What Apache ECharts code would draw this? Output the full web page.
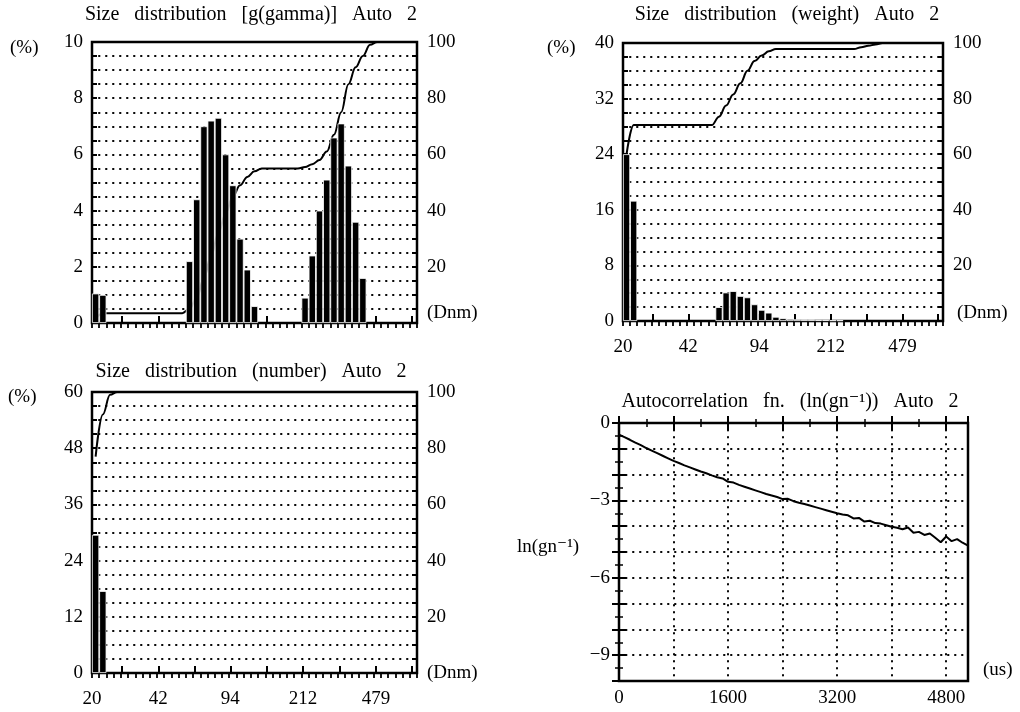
<!DOCTYPE html>
<html><head><meta charset="utf-8">
<script src="https://cdn.jsdelivr.net/npm/echarts@6/dist/echarts.min.js"></script>
<style>html,body{margin:0;padding:0;background:#fff}#c{width:1020px;height:712px}</style>
</head><body><div id="c"></div>
<script>
// ---------- DATA ----------
// bin centre diameters (nm), log-spaced bins shared by the three size panels
const binDiameters = [20.8, 22.6, 24.5, 26.5, 28.8, 31.2, 33.8, 36.6, 39.7, 43.0,
  46.6, 50.6, 54.8, 59.4, 64.4, 69.8, 75.6, 82.0, 88.9, 96.3,
  104, 113, 123, 133, 144, 156, 169, 184, 199, 216,
  234, 254, 275, 298, 323, 350, 380, 411, 446, 484,
  524, 568, 616, 668, 724];

// Size distribution [g(gamma)]  (%) and cumulative (%)
const gammaBars = [1.05, 1.0, 0, 0, 0, 0, 0, 0, 0, 0, 0, 0, 0,
  2.2, 4.4, 7.0, 7.2, 7.3, 6.0, 4.9, 3.0, 1.9, 0.6,
  0, 0, 0, 0, 0, 0,
  0.9, 2.4, 4.0, 5.1, 6.6, 7.1, 5.6, 3.6, 1.6,
  0, 0, 0, 0, 0, 0, 0];
const gammaCum = [1.5, 3.5, 3.5, 3.5, 3.5, 3.5, 3.5, 3.5, 3.5, 3.5, 3.5, 3.5, 3.5,
  5, 9, 16, 24, 32, 39, 45, 49, 52, 54, 55,
  55, 55, 55, 55, 55,
  55.5, 56.5, 58, 61, 67, 75, 85, 91, 95, 99,
  100, 100, 100, 100, 100, 100];

// Size distribution (weight)
const weightBars = [24, 17.3, 0, 0, 0, 0, 0, 0, 0, 0, 0, 0, 0,
  2.0, 4.1, 4.3, 3.6, 3.4, 2.4, 1.6, 1.2, 0.6, 0.4, 0.3, 0.25, 0.2, 0.2, 0.15, 0.15, 0.1, 0.1,
  0, 0, 0, 0, 0, 0, 0, 0, 0, 0, 0, 0, 0, 0];
const weightCum = [60, 70.5, 70.5, 70.5, 70.5, 70.5, 70.5, 70.5, 70.5, 70.5, 70.5, 70.5, 70.5,
  73.5, 77.5, 81.5, 85.5, 90, 93.5, 95.5, 97, 97.8,
  97.8, 97.8, 97.8, 97.8, 97.8, 97.8, 97.8, 97.8, 97.8, 97.8, 97.8,
  98.5, 99, 99.5,
  100, 100, 100, 100, 100, 100, 100, 100, 100];

// Size distribution (number)
const numberBars = [29.5, 17.5, 0, 0, 0, 0, 0, 0, 0, 0, 0, 0, 0, 0, 0,
  0, 0, 0, 0, 0, 0, 0, 0, 0, 0, 0, 0, 0, 0, 0,
  0, 0, 0, 0, 0, 0, 0, 0, 0, 0, 0, 0, 0, 0, 0];
const numberCum = [77, 92, 99, 100, 100, 100, 100, 100, 100, 100, 100, 100, 100, 100, 100,
  100, 100, 100, 100, 100, 100, 100, 100, 100, 100, 100, 100, 100, 100, 100,
  100, 100, 100, 100, 100, 100, 100, 100, 100, 100, 100, 100, 100, 100, 100];

// size axis ticks / labels (Dnm)
const sizeTickValues = [28, 42, 63, 94, 141, 212, 318, 479, 718];
const sizeLabelValues = [20, 42, 94, 212, 479];

// Autocorrelation fn. ln(gn^-1) vs time (us)
const acfTime = [0, 80, 160, 240, 320, 400, 480, 560, 640, 720, 800, 880, 960, 1040, 1120, 1200,
  1280, 1360, 1440, 1520, 1600, 1680, 1760, 1840, 1920, 2000, 2080, 2160, 2240, 2320, 2400,
  2480, 2560, 2640, 2720, 2800, 2880, 2960, 3040, 3120, 3200, 3280, 3360, 3440, 3520, 3600,
  3680, 3760, 3840, 3920, 4000, 4080, 4160, 4240, 4320, 4400, 4480, 4560, 4640, 4720, 4800,
  4880, 4960, 5040, 5120];
const acfValue = [-0.45, -0.55, -0.65, -0.76, -0.86, -0.97, -1.07, -1.17, -1.27, -1.37, -1.47,
  -1.55, -1.64, -1.72, -1.80, -1.88, -1.95, -2.03, -2.10, -2.15, -2.28, -2.31, -2.40, -2.47,
  -2.54, -2.61, -2.68, -2.75, -2.81, -2.87, -2.95, -2.94, -3.03, -3.09, -3.14, -3.20, -3.26,
  -3.32, -3.38, -3.44, -3.50, -3.55, -3.58, -3.70, -3.68, -3.82, -3.79, -3.88, -3.90, -3.96,
  -4.02, -4.06, -4.12, -4.05, -4.25, -4.22, -4.34, -4.28, -4.45, -4.62, -4.40, -4.58, -4.50,
  -4.64, -4.75];

// ---------- CHART ----------
const FONT = '"Liberation Serif","Times New Roman","DejaVu Serif",serif';
const FS = 19;
const dotted = {color: '#000', width: 2, type: [0.5, 6.5], cap: 'round'};
const tickStyle = {color: '#000', width: 2};

const grid = [
  {left: 92, top: 42, width: 325, height: 281},
  {left: 623, top: 43, width: 320, height: 278},
  {left: 92, top: 392, width: 325, height: 281},
  {left: 619, top: 423, width: 349, height: 258}
].map(g => Object.assign({show: true, borderColor: '#000', borderWidth: 2.5, backgroundColor: '#fff'}, g));

const xAxis = [], yAxis = [], series = [];
const lbl = (extra) => Object.assign({color: '#000', fontFamily: FONT, fontSize: FS}, extra);

function distPanel(gi, bars, cum, yMax, yInt, yStep, showX) {
  const xi = xAxis.length, yi = yAxis.length;
  xAxis.push({gridIndex: gi, type: 'category', data: binDiameters, position: 'top', boundaryGap: true,
    axisLine: {show: false}, axisLabel: {show: false}, splitLine: {show: false},
    axisTick: {show: true, inside: true, length: 5, interval: 0, lineStyle: {color: '#000', width: 1.8}}});
  xAxis.push({gridIndex: gi, type: 'log', logBase: 10, min: 20, max: 758, position: 'bottom',
    axisLine: {show: false}, splitLine: {show: false}, minorTick: {show: false},
    axisTick: {show: true, inside: true, length: 7, customValues: sizeTickValues, lineStyle: tickStyle},
    axisLabel: lbl({show: showX, customValues: sizeLabelValues, margin: 17, formatter: v => String(Math.round(v))})});
  yAxis.push({gridIndex: gi, type: 'value', min: 0, max: yMax, interval: yInt, position: 'left',
    axisLine: {show: false}, splitLine: {show: true, lineStyle: dotted},
    axisTick: {show: true, inside: true, length: 5, lineStyle: tickStyle},
    axisLabel: lbl({margin: 9, formatter: v => (Math.abs(v % yStep) < 1e-9 ? String(v) : '')})});
  yAxis.push({gridIndex: gi, type: 'value', min: 0, max: 100, interval: 5, position: 'right',
    axisLine: {show: false}, splitLine: {show: false},
    axisTick: {show: true, inside: true, length: 5, lineStyle: tickStyle},
    axisLabel: lbl({margin: 10, formatter: v => (v % 20 === 0 && v !== 0 ? String(v) : '')})});
  series.push({type: 'line', xAxisIndex: xi, yAxisIndex: yi + 1, data: cum, smooth: 0.4, smoothMonotone: 'x',
    symbol: 'none', lineStyle: {color: '#000', width: 2}, silent: true, z: 1});
  series.push({type: 'bar', xAxisIndex: xi, yAxisIndex: yi, data: bars.map(v => (v === 0 ? null : v)),
    barCategoryGap: '0%', barGap: '0%', z: 2,
    itemStyle: {color: '#000', borderColor: '#fff', borderWidth: 0.8}, silent: true});
}

distPanel(0, gammaBars, gammaCum, 10, 0.5, 2, false);
distPanel(1, weightBars, weightCum, 40, 2, 8, true);
distPanel(2, numberBars, numberCum, 60, 3, 12, true);

// autocorrelation panel
{
  const xi = xAxis.length, yi = yAxis.length;
  const xBase = {gridIndex: 3, type: 'value', min: 0, max: 5120, interval: 800,
    axisLine: {show: false},
    axisTick: {show: true, inside: true, length: 7, lineStyle: tickStyle},
    minorTick: {show: true, splitNumber: 2, length: 4, lineStyle: {color: '#000', width: 1.5}},
    minorSplitLine: {show: false}};
  xAxis.push(Object.assign({}, xBase, {position: 'bottom', splitLine: {show: true, lineStyle: dotted},
    axisLabel: lbl({margin: 8, formatter: v => (v % 1600 === 0 ? String(v) : '')})}));
  xAxis.push(Object.assign({}, xBase, {position: 'top', splitLine: {show: false}, axisLabel: {show: false}}));
  const yBase = {gridIndex: 3, type: 'value', min: -10, max: 0, interval: 1,
    axisLine: {show: false},
    axisTick: {show: true, inside: true, length: 7, lineStyle: tickStyle},
    minorTick: {show: true, splitNumber: 2, length: 4, lineStyle: {color: '#000', width: 1.5}},
    minorSplitLine: {show: false}};
  yAxis.push(Object.assign({}, yBase, {position: 'left', splitLine: {show: true, lineStyle: dotted},
    axisLabel: lbl({margin: 9, formatter: v => (v % 3 === 0 ? (v < 0 ? '\u2212' + Math.abs(v) : String(v)) : '')})}));
  yAxis.push(Object.assign({}, yBase, {position: 'right', splitLine: {show: false}, axisLabel: {show: false}}));
  series.push({type: 'line', xAxisIndex: xi, yAxisIndex: yi, data: acfTime.map((t, i) => [t, acfValue[i]]),
    symbol: 'none', lineStyle: {color: '#000', width: 2}, silent: true, z: 3});
}

function txt(text, x, y, align, size) {
  return {type: 'text', x: x, y: y, z: 100, silent: true,
    style: {text: text, fill: '#000', font: (size || FS) + 'px ' + FONT, textAlign: align || 'center', textVerticalAlign: 'middle'}};
}

const graphic = [
  txt('Size   distribution   [g(gamma)]   Auto   2', 251, 15, 'center', 20),
  txt('Size   distribution   (weight)   Auto   2', 787, 15, 'center', 20),
  txt('Size   distribution   (number)   Auto   2', 251, 372, 'center', 20),
  txt('Autocorrelation   fn.   (ln(gn\u207B\u00B9))   Auto   2', 790, 402, 'center', 20),
  txt('(%)', 10, 48, 'left'),
  txt('(%)', 547, 48, 'left'),
  txt('(%)', 8, 397, 'left'),
  txt('(Dnm)', 427, 313, 'left'),
  txt('(Dnm)', 957, 313, 'left'),
  txt('(Dnm)', 427, 673, 'left'),
  txt('ln(gn\u207B\u00B9)', 517, 547, 'left'),
  txt('(us)', 983, 670, 'left')
];

const chart = echarts.init(document.getElementById('c'), null, {renderer: 'canvas'});
chart.setOption({animation: false, backgroundColor: '#fff', grid, xAxis, yAxis, series, graphic});
</script></body></html>
